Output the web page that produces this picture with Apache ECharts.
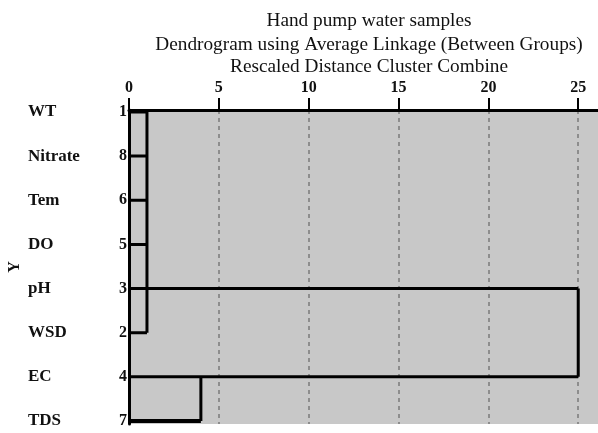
<!DOCTYPE html>
<html>
<head>
<meta charset="utf-8">
<script src="https://cdn.jsdelivr.net/npm/echarts@6/dist/echarts.min.js"></script>
<style>
  html, body { margin: 0; padding: 0; background: #fff; }
  #chart { width: 598px; height: 433px; }
</style>
</head>
<body>
<div id="chart"></div>
<script>
// leaves top to bottom
var names = ['WT', 'Nitrate', 'Tem', 'DO', 'pH', 'WSD', 'EC', 'TDS'];
var caseNums = [1, 8, 6, 5, 3, 2, 4, 7];
// rescaled distance where each leaf's horizontal line ends
var leafReach = [1, 1, 1, 1, 25, 1, 25, 4];
// vertical joins: distance, first row, last row
var joinDist = [1, 25, 4];
var joinFrom = [0, 4, 6];
var joinTo = [5, 6, 7];
var xTicks = [0, 5, 10, 15, 20, 25];

var serif = 'Liberation Serif';
var rows = names.map(function (n, i) { return i; });

var series = [];
leafReach.forEach(function (d, i) {
  series.push({
    type: 'line',
    data: [[0, i], [d, i]],
    symbol: 'none',
    silent: true,
    lineStyle: { color: '#000', width: i === names.length - 1 ? 4 : 3 }
  });
});
joinDist.forEach(function (d, k) {
  series.push({
    type: 'line',
    data: [[d, joinFrom[k]], [d, joinTo[k]]],
    symbol: 'none',
    silent: true,
    lineStyle: { color: '#000', width: 3 }
  });
});

var titleFont = { fontFamily: serif, fontSize: 19.3, fontWeight: 'normal', color: '#111' };

var chart = echarts.init(document.getElementById('chart'));
chart.setOption({
  animation: false,
  title: [
    { text: 'Hand pump water samples', left: 364, top: 6, textAlign: 'center', textStyle: titleFont },
    { text: 'Dendrogram using Average Linkage (Between Groups)', left: 364, top: 30, textAlign: 'center', textStyle: titleFont },
    { text: 'Rescaled Distance Cluster Combine', left: 364, top: 52, textAlign: 'center', textStyle: titleFont }
  ],
  grid: {
    left: 129, right: 0, top: 110, bottom: 9,
    outerBoundsMode: 'none',
    containLabel: false,
    show: true, backgroundColor: '#c8c8c8', borderWidth: 0
  },
  xAxis: {
    type: 'value',
    position: 'top',
    min: 0,
    max: 26.1,
    axisLine: { onZero: false, lineStyle: { color: '#000', width: 3 } },
    axisTick: { customValues: xTicks, length: 12, lineStyle: { color: '#000', width: 2 } },
    axisLabel: {
      customValues: xTicks, margin: 14,
      fontFamily: serif, fontSize: 16, fontWeight: 'bold', color: '#111'
    },
    splitLine: { show: true, lineStyle: { color: '#7a7a7a', width: 1.5, type: [4, 4] } }
  },
  yAxis: {
    type: 'value',
    inverse: true,
    min: -0.045,
    max: 7.07,
    name: 'Y',
    nameLocation: 'middle',
    nameGap: 106,
    nameMoveOverlap: false,
    nameTextStyle: { fontFamily: serif, fontSize: 16, fontWeight: 'bold', color: '#111' },
    axisLine: { show: true, onZero: false, lineStyle: { color: '#000', width: 3 } },
    axisTick: { show: false },
    splitLine: { show: false },
    axisLabel: {
      customValues: rows,
      margin: 2,
      formatter: function (v) {
        return '{n|' + names[v] + '}{c|' + caseNums[v] + '}';
      },
      rich: {
        n: { width: 89, align: 'left', fontFamily: serif, fontSize: 17, fontWeight: 'bold', color: '#111' },
        c: { width: 10, align: 'right', fontFamily: serif, fontSize: 16, fontWeight: 'bold', color: '#111' }
      }
    }
  },
  series: series
});
</script>
</body>
</html>
